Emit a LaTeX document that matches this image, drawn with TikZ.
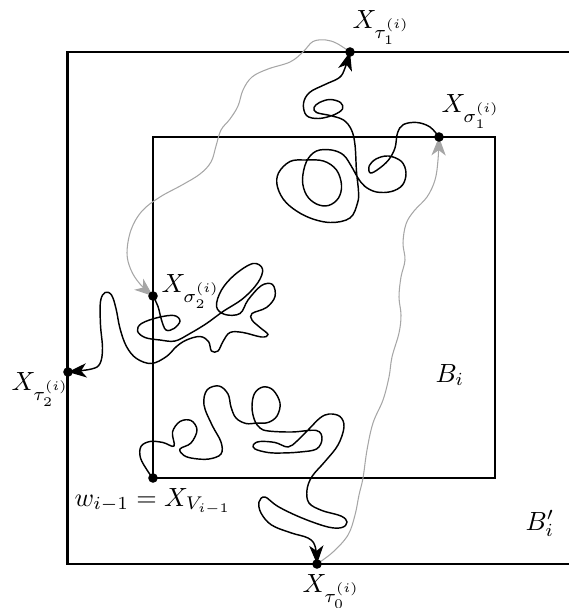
\documentclass[tikz,border=0pt]{standalone}
\usepackage{amssymb}
\usepackage{mathtools}
\usetikzlibrary{arrows.meta}

\tikzset{
  boite/.style={line width=1pt},
  marche/.style={line width=0.55pt},
  pont/.style={line width=0.4pt, color=black!35},
  fleche/.style={-{Stealth[length=7pt,width=5.4pt,inset=2pt]}},
  etiq/.style={inner sep=0pt, anchor=base west}
}

\begin{document}
\begin{tikzpicture}[x=0.38pt, y=-0.38pt]
\useasboundingbox (0,0) rectangle (569,608);
% les deux boites
\draw[boite] (569,52) -- (67.5,52) -- (67.5,564) -- (569,564);
\draw[boite] (153,137) rectangle (495,478);
% points
\coordinate (w) at (153,478);
\coordinate (tau0) at (317,564);
\coordinate (tau1) at (350,52);
\coordinate (tau2) at (68,372);
\coordinate (sig1) at (439,137);
\coordinate (sig2) at (153,296);
% marches (noir)
\draw[marche, fleche] plot[smooth, tension=0.6] coordinates {(w) (148,471.5) (140.5,458) (141,446.5) (150,441.5) (163,442.5) (174,446) (172.5,432) (180,421.5) (191,420.5) (197,430) (191,443) (180,449) (184,455.5) (194,458.5) (209,459) (221,454) (221,442) (212,425) (204,405) (207,390) (219,386) (228,394) (231,407) (236,418) (246,423.5) (257,423) (268,422.5) (277,416) (280,403) (273,390) (263,387) (254.5,393.5) (252,407) (254.5,420) (260,428) (268.5,431) (292,432) (316.5,430.5) (322,439) (316.5,449) (300,452) (282,453) (268,452.5) (255,449) (253.5,444.5) (260,441.5) (275,442.5) (288,447) (297,441) (309,429) (320,418) (329,414) (340,416.5) (344,427) (338,445) (325,461.5) (312,476.5) (307,490) (309,503) (322,510.5) (341,516) (347,522) (342,527.5) (328,527) (302,518) (278,506.5) (265,497) (259,502) (261,513) (271.5,525) (291.5,533) (308,538) (315,546) (tau0)};
\draw[marche, fleche] plot[smooth, tension=0.6] coordinates {(sig1) (430,127) (417,122.5) (403.5,124.5) (397.5,133) (395,148) (388.5,160) (378.5,169) (370.5,173) (369,166.5) (376,159) (388.5,156) (401.5,161.5) (406,173) (402.5,185) (391.5,191.5) (376.5,192) (365,186.5) (358,178) (351.5,166.5) (343.5,155) (331.5,150) (316.5,151) (306.5,161.5) (302.5,180) (306.5,195) (316.5,204) (328.5,205.5) (338.5,198) (341.5,185) (336.5,170) (323.5,161) (305,160) (290,161.5) (278.5,173) (277.5,187) (286.5,203) (306.5,216.5) (330,222.5) (350,218) (357.5,203) (358.5,191.5) (356.5,171.5) (355,145) (351.5,130) (343.5,120) (330,115.5) (316.5,112.5) (314,107.5) (319.5,102.5) (330,99.5) (340.5,102.5) (342.5,109) (333.5,115) (318.5,118.5) (306.5,115.5) (303.5,103.5) (309.5,92.5) (325,84.5) (339.5,77.5) (345,68) (tau1)};
\draw[marche, fleche] plot[smooth, tension=0.6] coordinates {(sig2) (158,306.5) (161.5,320) (166,330) (174,328.5) (180,321) (174,315.5) (158,317.5) (141.5,323.5) (137.5,331) (145,337.5) (160,340) (175,341) (190,333.5) (206.5,323.5) (223,311.5) (243,298.5) (258,282.5) (262.5,269) (253,263.5) (235,274.5) (221.5,290) (216.5,306.5) (225,314.5) (240,313.5) (248,300) (261.5,285.5) (272.5,284.5) (275,296.5) (266.5,307.5) (252,313.5) (252,320) (260,327.5) (268,334.5) (261.5,337) (243,332.5) (230,332.5) (223,341.5) (218,351) (211.5,351) (208.5,341.5) (200,336.5) (186.5,340) (176.5,346.5) (166.5,356.5) (151.5,363.5) (136.5,358.5) (126.5,346.5) (120,328.5) (116,308.5) (111.5,295) (105,292.5) (100.5,301.5) (100.5,325) (102.5,348.5) (100,363.5) (91.5,369) (tau2)};
% liaisons (gris)
\draw[pont, fleche] plot[smooth, tension=0.6] coordinates {(tau1) (337,43.5) (326,40) (313,41.5) (303,52) (290,62) (268,69) (252,77) (243,90) (238,106) (230,119) (221,130) (216,146) (211,162) (200,174) (182,185) (160,197) (142,211) (131,230) (127,253) (131,270) (140,284) (sig2)};
\draw[pont, fleche] plot[smooth, tension=0.6] coordinates {(tau0) (333,552) (348,535) (355,515) (359,495) (363,478) (367,450) (373,423) (383,400) (389,377) (392,357) (399,333) (401,315) (399,297) (401,277) (405,260) (403,243) (406,224) (414,211) (427,197) (435,180) (438,160) (sig1)};
% dessin des noeuds
\filldraw (w) circle (1.6pt);
\filldraw (tau0) circle (1.6pt);
\filldraw (tau1) circle (1.6pt);
\filldraw (tau2) circle (1.6pt);
\filldraw (sig1) circle (1.6pt);
\filldraw (sig2) circle (1.6pt);
% etiquettes
\node[etiq] (ltau1) at (352,28) {$X_{\tau^{(i)}_1}$};
\node[etiq] (lsig1) at (441,112) {$X_{\sigma^{(i)}_1}$};
\node[etiq] (lsig2) at (161,292) {$X_{\sigma^{(i)}_2}$};
\node[etiq] (ltau2) at (11,390) {$X_{\tau^{(i)}_2}$};
\node[etiq] (ltau0) at (302,592) {$X_{\tau^{(i)}_0}$};
\node[etiq] (lw) at (74,506) {$w_{i-1}=X_{V_{i-1}}$};
\node[etiq] (lB) at (435,382) {$B_i$};
\node[etiq] (lBp) at (525,530) {$B'_i$};
\end{tikzpicture}
\end{document}
